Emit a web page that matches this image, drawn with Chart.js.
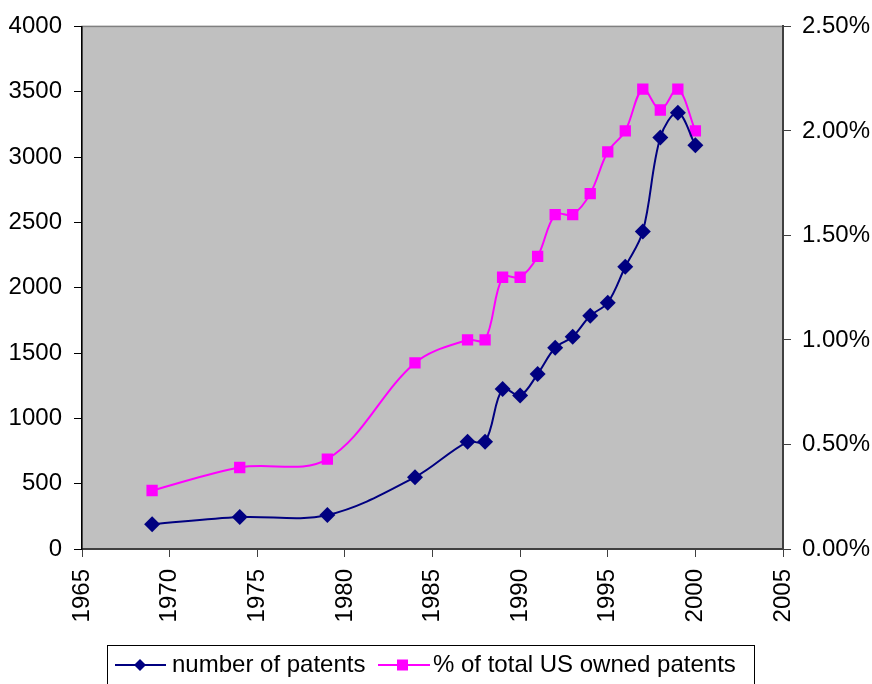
<!DOCTYPE html>
<html>
<head>
<meta charset="utf-8">
<script src="https://cdn.jsdelivr.net/npm/chart.js@4/dist/chart.umd.min.js"></script>
<style>
  html, body { margin: 0; padding: 0; background: #fff; }
  #wrap { width: 872px; height: 684px; }
</style>
</head>
<body>
<div id="wrap"><canvas id="patentChart" width="872" height="684"></canvas></div>
<script>
/* data */
const years = [1969, 1974, 1979, 1984, 1987, 1988, 1989, 1990, 1991, 1992, 1993, 1994, 1995, 1996, 1997, 1998, 1999, 2000];
const patentCounts = [190, 244, 260, 550, 820, 820, 1225, 1175, 1340, 1540, 1625, 1785, 1885, 2160, 2430, 3150, 3340, 3090];
const usSharePct = [0.28, 0.39, 0.43, 0.89, 1.00, 1.00, 1.30, 1.30, 1.40, 1.60, 1.60, 1.70, 1.90, 2.00, 2.20, 2.10, 2.20, 2.00];
const seriesNames = ["number of patents", "% of total US owned patents"];

const FONT = "'Liberation Sans', Arial, sans-serif";
const FONT_SIZE = 24;
const BLUE = "#000080";
const PINK = "#FF00FF";

/* grey plot area */
const plotBackground = {
    id: "plotBackground",
    beforeDraw(chart) {
        const { ctx, chartArea: a } = chart;
        ctx.save();
        ctx.fillStyle = "#C0C0C0";
        ctx.fillRect(a.left, a.top, a.right - a.left, a.bottom - a.top);
        ctx.strokeStyle = "#808080";
        ctx.lineWidth = 1.5;
        ctx.strokeRect(a.left, a.top, a.right - a.left, a.bottom - a.top);
        ctx.restore();
    }
};

/* excel style legend box at the bottom */
const boxLegend = {
    id: "boxLegend",
    afterDraw(chart) {
        const ctx = chart.ctx;
        ctx.save();
        ctx.strokeStyle = "#000";
        ctx.lineWidth = 1;
        ctx.strokeRect(107.5, 645.5, 647, 60);

        const cy = 665;
        // blue entry
        ctx.strokeStyle = BLUE;
        ctx.lineWidth = 2;
        ctx.beginPath(); ctx.moveTo(115, cy); ctx.lineTo(166, cy); ctx.stroke();
        ctx.fillStyle = BLUE;
        ctx.beginPath();
        ctx.moveTo(140, cy - 6); ctx.lineTo(146, cy); ctx.lineTo(140, cy + 6); ctx.lineTo(134, cy);
        ctx.closePath(); ctx.fill();

        // pink entry
        ctx.strokeStyle = PINK;
        ctx.beginPath(); ctx.moveTo(378, cy); ctx.lineTo(430, cy); ctx.stroke();
        ctx.fillStyle = PINK;
        ctx.fillRect(397, cy - 5.5, 11, 11);

        ctx.fillStyle = "#000";
        ctx.font = FONT_SIZE + "px " + FONT;
        ctx.textBaseline = "middle";
        ctx.fillText(seriesNames[0], 172, cy);
        ctx.fillText(seriesNames[1], 433, cy);
        ctx.restore();
    }
};

new Chart(document.getElementById("patentChart"), {
    type: "line",
    data: {
        labels: years,
        datasets: [
            {
                label: seriesNames[0],
                data: years.map((y, i) => ({ x: y, y: patentCounts[i] })),
                yAxisID: "y",
                borderColor: BLUE,
                backgroundColor: BLUE,
                borderWidth: 2,
                pointStyle: "rectRot",
                pointRadius: 8,
                pointBorderWidth: 0,
                tension: 0.35
            },
            {
                label: seriesNames[1],
                data: years.map((y, i) => ({ x: y, y: usSharePct[i] })),
                yAxisID: "y1",
                borderColor: PINK,
                backgroundColor: PINK,
                borderWidth: 2,
                pointStyle: "rect",
                pointRadius: 8,
                pointBorderWidth: 0,
                tension: 0.35
            }
        ]
    },
    options: {
        responsive: false,
        animation: false,
        layout: { padding: { top: 25, left: 0, right: 0, bottom: 0 } },
        plugins: {
            legend: { display: false },
            tooltip: { enabled: false }
        },
        scales: {
            x: {
                type: "linear",
                min: 1965,
                max: 2005,
                ticks: {
                    stepSize: 5,
                    minRotation: 90,
                    maxRotation: 90,
                    padding: 12,
                    color: "#000",
                    font: { family: FONT, size: FONT_SIZE },
                    callback: v => String(v)
                },
                grid: { drawOnChartArea: false, tickLength: 8, color: "#404040" },
                border: { color: "#404040", width: 2 },
                afterFit: s => { s.height = 135; }
            },
            y: {
                position: "left",
                min: 0,
                max: 4000,
                ticks: {
                    stepSize: 500,
                    padding: 12,
                    color: "#000",
                    font: { family: FONT, size: FONT_SIZE },
                    callback: v => String(v)
                },
                grid: { drawOnChartArea: false, tickLength: 8, color: "#000" },
                border: { color: "#000", width: 1.5 },
                afterFit: s => { s.width = 82; }
            },
            y1: {
                position: "right",
                min: 0,
                max: 2.5,
                ticks: {
                    stepSize: 0.5,
                    padding: 11,
                    color: "#000",
                    font: { family: FONT, size: FONT_SIZE },
                    callback: v => v.toFixed(2) + "%"
                },
                grid: { drawOnChartArea: false, tickLength: 8, color: "#404040" },
                border: { color: "#404040", width: 2 },
                afterFit: s => { s.width = 89; }
            }
        }
    },
    plugins: [plotBackground, boxLegend]
});
</script>
</body>
</html>
